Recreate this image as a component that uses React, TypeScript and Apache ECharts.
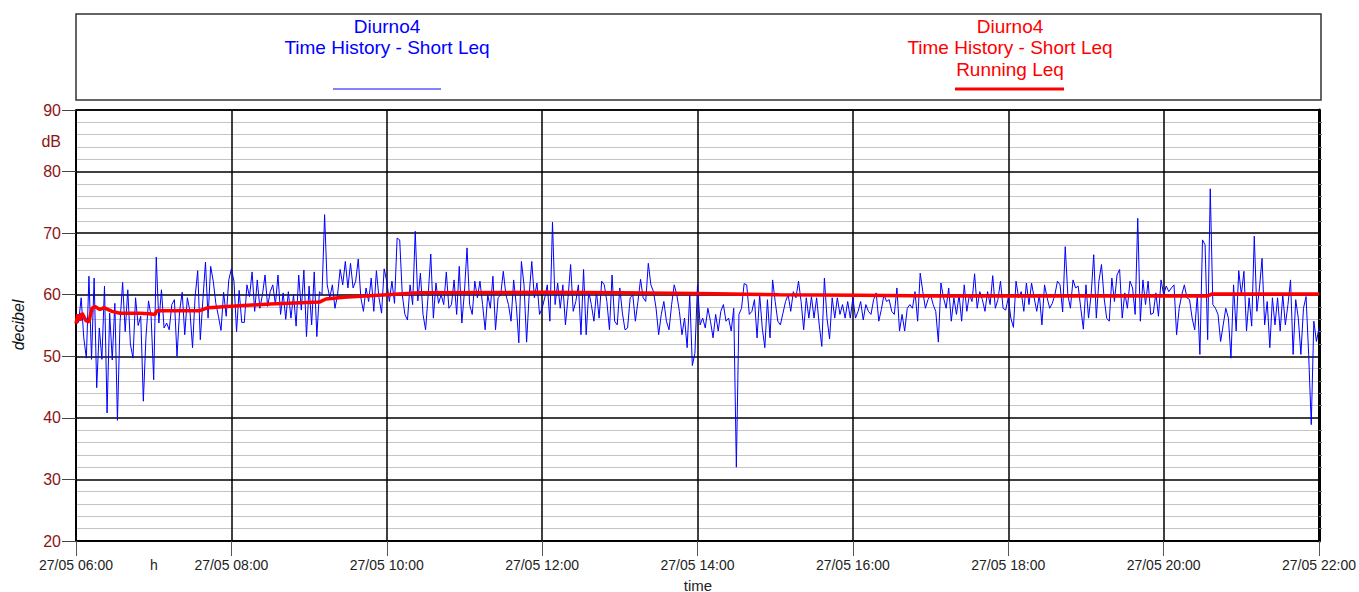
import React, { useEffect, useRef } from "react";
import * as echarts from "echarts";

// Short Leq values (dB), one array per hour, sampled every ~2 minutes
const h06 = [56, 55.5, 59.5, 53, 49.7, 63, 49.5, 62.7, 44.9, 54.6, 49.5, 61.4, 40.8, 57, 49.4, 58.6, 39.6, 55.5, 62, 54, 60.8, 52, 49.7, 59.5, 55, 56.5, 42.7, 53, 59, 56.5];
const h07 = [46.2, 66.1, 55.4, 60.8, 54.6, 55.4, 54.3, 58.4, 59.2, 50, 57.3, 60.4, 53.5, 59.5, 57.3, 51.4, 59.7, 63.9, 52.7, 59.2, 65.3, 56.2, 64.6, 62.2, 58.6, 56.5, 54.2, 60.4, 56.5, 62.4];
const h08 = [64.2, 62.2, 54, 60.7, 55.5, 55.5, 61.6, 59.7, 63.7, 57.3, 62.4, 57.8, 60, 63.2, 58.1, 60.5, 61.6, 58.4, 63.2, 56.8, 60.3, 56, 60.5, 56.2, 60, 54.9, 63.2, 57.5, 64, 53.2];
const h09 = [61.4, 55.1, 63.7, 53.2, 60.5, 60, 73, 61.6, 59.5, 61.6, 57.8, 60, 64.1, 61.6, 65.4, 61.1, 65.1, 61.1, 62.2, 65.8, 59.5, 57.3, 61.1, 58.9, 62.7, 57.3, 63.9, 59.5, 57, 64.2];
const h10 = [62.2, 58.9, 62.2, 58.6, 69.2, 68.9, 60, 56.8, 55.9, 61.6, 58.4, 70.3, 59, 63.5, 56.8, 54.3, 60, 66.6, 56.2, 61.9, 58.6, 60, 58.4, 63.7, 57.8, 58.4, 62.4, 56.8, 64.6, 55.4];
const h11 = [60.5, 67.6, 58.4, 56.8, 62.2, 59.5, 62.2, 58.4, 54.3, 60, 57.8, 63, 54.3, 59.5, 60, 63.8, 60, 58.4, 55.7, 62.4, 58.4, 52.2, 65.4, 61.6, 52.3, 60, 65.4, 59.5, 61.9, 56.8];
const h12 = [57.8, 59.5, 61.6, 55.7, 71.8, 58.4, 61.9, 57.8, 61.6, 55.1, 59.5, 64.9, 57.3, 58.9, 61.6, 53.5, 64.1, 53.5, 60.5, 58.4, 55.7, 60.5, 56.2, 62.2, 61.6, 58.9, 54.3, 63.2, 55.7, 55.1];
const h13 = [61.1, 57, 54.3, 54.6, 59.5, 60, 55.7, 58.9, 62.5, 59.5, 58.9, 65.1, 61.6, 60.5, 57.8, 53.5, 56.8, 58.9, 55.7, 54.3, 58.4, 61.6, 60, 57.3, 53.5, 56.2, 51.4, 60, 48.5, 50.5];
const h14 = [61.6, 55.1, 56.2, 54.6, 57.8, 55.7, 53, 56.8, 54.1, 57.3, 58.4, 55.7, 56.2, 54.1, 57.8, 32, 56.8, 57.8, 61.8, 61.6, 56.8, 57.3, 59.2, 53, 60, 54.6, 51.4, 59.2, 53, 62.4];
const h15 = [58.9, 55.7, 55.1, 57, 58.9, 60, 57.3, 60.5, 59.5, 62.2, 58.9, 54.3, 59.5, 56.2, 59.7, 56.2, 59.5, 55.1, 51.6, 62.7, 56.2, 52.8, 59.5, 56.2, 59.5, 56.8, 58.4, 56.2, 58.9, 56.2];
const h16 = [59.5, 56.2, 57.3, 58.9, 55.9, 58.4, 57.3, 56.8, 59.2, 60.3, 55.7, 57.6, 60, 58.9, 59.2, 57.3, 56.8, 61.1, 54.1, 56.8, 54.1, 57.8, 58.4, 57.8, 60.5, 55.7, 63.5, 60.5, 57.8, 59.2];
const h17 = [60, 58.4, 57.3, 52.3, 61.9, 59.5, 57.8, 61.1, 55.7, 59.5, 56.8, 60, 55.7, 61.6, 57.3, 60, 58.9, 63.4, 57.8, 60.5, 59.2, 57.3, 60.5, 58.4, 63.1, 57.8, 59.2, 62.2, 57.8, 57.5];
const h18 = [59.5, 56.2, 54.7, 62.2, 59.5, 60.5, 57.3, 61.9, 58.4, 61.9, 59.5, 57.3, 60, 55.1, 61.6, 59.5, 57.8, 58.6, 60, 62.2, 61.6, 57.2, 67.8, 60, 57.8, 62.4, 61.1, 61.4, 57.8, 54.4];
const h19 = [61.6, 56.2, 60, 66.5, 56.2, 62.2, 64.9, 59.5, 56.2, 55.7, 62.7, 58.9, 63.2, 64.1, 56.2, 60.3, 57.8, 62.2, 61.1, 56.8, 72.4, 55.7, 62.4, 58.4, 62.2, 56.8, 57, 60.3, 56.5, 62.4];
const h20 = [60, 61.4, 60.5, 61.1, 61.6, 53.5, 57.8, 60, 61.6, 59.5, 59.2, 56.2, 54.3, 60, 50.3, 68.9, 68.1, 52.7, 77.2, 58.4, 57.8, 56.8, 52.4, 55.1, 57.8, 56.2, 49.7, 61.6, 54.1, 63.9];
const h21 = [60, 63.8, 54.1, 59.5, 54.9, 69.5, 57.3, 61.1, 65.9, 55.1, 58.9, 51.4, 59.5, 55.1, 59.5, 54.1, 60, 55.1, 58.4, 62.4, 50.3, 59.2, 56.2, 50.3, 57.8, 59.7, 50.3, 38.9, 55.7, 52.4, 54.6];

// Running Leq (minutes from 06:00, dB)
const leqMinutes = [0, 1.5, 3, 4.6, 7.7, 10, 12.3, 14.6, 18.5, 21.6, 27.8, 34, 49, 57, 61, 62.5, 95.6, 102, 126, 150, 188, 193, 207, 240, 265, 358, 419, 481, 543, 605, 666, 720, 790, 874, 877, 960];
const leqValues = [55.3, 56.8, 55.8, 57, 55.8, 55.6, 57.8, 58.1, 57.6, 57.9, 57.3, 57.0, 57.0, 56.9, 56.8, 57.4, 57.4, 57.9, 58.2, 58.5, 58.8, 59.3, 59.6, 60.0, 60.3, 60.4, 60.3, 60.2, 60.0, 59.9, 59.8, 59.8, 59.8, 59.8, 60.1, 60.1];

const xTickHours = [6, 8, 10, 12, 14, 16, 18, 20, 22];

const FONT = "'Liberation Sans', Arial, sans-serif";

function buildShortLeq(): number[][] {
  const hours = [h06, h07, h08, h09, h10, h11, h12, h13, h14, h15, h16, h17, h18, h19, h20, h21];
  const pts: number[][] = [];
  hours.forEach((arr, hi) => {
    const last = hi === hours.length - 1;
    const step = last ? 60 / (arr.length - 1) : 60 / arr.length;
    arr.forEach((v, j) => pts.push([hi * 60 + j * step, v]));
  });
  return pts;
}

const pad = (n: number) => (n < 10 ? "0" + n : "" + n);

export default function App() {
  const ref = useRef<HTMLDivElement>(null);
  useEffect(() => {
    if (!ref.current) return;
    const chart = echarts.init(ref.current, null, { renderer: "svg" });
    const shortLeq = buildShortLeq();
    const running = leqMinutes.map((m, i) => [m, leqValues[i]]);
    const txt = (text: string, x: number, y: number, fill: string, size: number, extra: any = {}) => ({
      type: "text",
      x,
      y,
      silent: true,
      ...extra,
      style: {
        text,
        fill,
        font: `${extra.italic ? "italic " : ""}${size}px ${FONT}`,
        align: extra.align || "center",
        verticalAlign: "middle",
        textAlign: extra.align || "center",
        textVerticalAlign: "middle",
      },
    });
    const option: any = {
      animation: false,
      backgroundColor: "#ffffff",
      grid: { left: 76, right: 38, top: 110, bottom: 51, show: true, borderColor: "#000", borderWidth: 1.5, backgroundColor: "transparent" },
      xAxis: {
        type: "value",
        min: 0,
        max: 960,
        interval: 120,
        axisLine: { show: true, lineStyle: { color: "#000", width: 1.5 } },
        axisTick: { show: true, length: 15, lineStyle: { color: "#555", width: 1 } },
        axisLabel: {
          color: "#222",
          fontSize: 14,
          fontFamily: FONT,
          margin: 17,
          showMinLabel: true,
          showMaxLabel: true,
          hideOverlap: false,
          formatter: (v: number) => "27/05 " + pad(6 + Math.round(v / 60)) + ":00",
        },
        splitLine: { show: true, lineStyle: { color: "#000", width: 1.5 } },
      },
      yAxis: [
        {
          type: "value",
          min: 20,
          max: 90,
          interval: 10,
          axisLine: { show: true, lineStyle: { color: "#000", width: 1.5 } },
          axisTick: { show: true, length: 14, lineStyle: { color: "#444", width: 1 } },
          axisLabel: { color: "#8c1515", fontSize: 16, fontFamily: FONT, margin: 15 },
          splitLine: { show: true, lineStyle: { color: "#000", width: 1.5 } },
          minorTick: { show: false, splitNumber: 5 },
          minorSplitLine: { show: true, lineStyle: { color: "#c4c4c4", width: 1.2 } },
        },
        {
          type: "value",
          position: "right",
          min: 20,
          max: 90,
          interval: 10,
          axisLine: { show: true, lineStyle: { color: "#000", width: 3 } },
          axisTick: { show: false },
          axisLabel: { show: false },
          splitLine: { show: false },
          minorTick: { show: true, splitNumber: 5, length: 3, lineStyle: { color: "#777" } },
        },
      ],
      series: [
        {
          type: "line",
          name: "Short Leq",
          data: shortLeq,
          showSymbol: false,
          symbol: "none",
          lineStyle: { color: "#0000ff", width: 1 },
          z: 3,
        },
        {
          type: "line",
          name: "Running Leq",
          data: running,
          showSymbol: false,
          symbol: "none",
          lineStyle: { color: "#ff0000", width: 3.5 },
          z: 4,
        },
      ],
      graphic: [
        { type: "rect", shape: { x: 76, y: 14, width: 1245, height: 86 }, style: { fill: "#fff", stroke: "#333", lineWidth: 1.5 }, silent: true },
        txt("Diurno4", 387, 26, "#0000ff", 19),
        txt("Time History - Short Leq", 387, 47, "#0000ff", 19),
        { type: "line", shape: { x1: 333, y1: 89, x2: 441, y2: 89 }, style: { stroke: "#5a5aff", lineWidth: 1.5 }, silent: true },
        txt("Diurno4", 1010, 26, "#ff0000", 19),
        txt("Time History - Short Leq", 1010, 47, "#ff0000", 19),
        txt("Running Leq", 1010, 69, "#ff0000", 19),
        { type: "line", shape: { x1: 955, y1: 89, x2: 1064, y2: 89 }, style: { stroke: "#ff0000", lineWidth: 3 }, silent: true },
        txt("dB", 61, 141, "#8c1515", 16, { align: "right" }),
        txt("decibel", 18.5, 325, "#111", 16, { rotation: Math.PI / 2, italic: true }),
        txt("h", 154, 565, "#222", 14),
        txt("time", 698, 585, "#222", 15),
      ],
    };
    chart.setOption(option);
    return () => chart.dispose();
  }, []);
  return <div ref={ref} style={{ position: "fixed", left: 0, top: 0, width: 1359, height: 592 }} />;
}
